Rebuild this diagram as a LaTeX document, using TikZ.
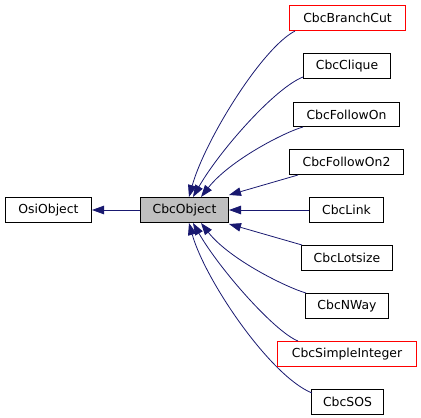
\documentclass[tikz,border=0pt]{standalone}
\usepackage{fontspec}
\setmainfont{DejaVu Sans}
\usetikzlibrary{arrows.meta,calc}
\definecolor{edgeblue}{RGB}{25,25,112}
\definecolor{boxgray}{RGB}{191,191,191}
\definecolor{boxred}{RGB}{255,0,0}
\tikzset{
  box/.style={draw=black, line width=1pt, fill=white, inner sep=0pt, minimum height=25pt, font=\fontsize{12.4}{14}\selectfont},
  redbox/.style={box, draw=boxred},
  edge/.style={draw=edgeblue, line width=0.8pt, -{Triangle[length=12pt,width=8.5pt]}}
}
\begin{document}
\begin{tikzpicture}[x=1pt,y=-1pt]
\useasboundingbox (0,0) rectangle (421,418);
\node[box, minimum width=86pt] (osi) at (48.5,210) {OsiObject};
\node[box, fill=boxgray, minimum width=88pt] (obj) at (184.5,210) {CbcObject};
\node[redbox, minimum width=116pt] (bc) at (347.5,18) {CbcBranchCut};
\node[box, minimum width=87pt] (cl) at (347,66) {CbcClique};
\node[box, minimum width=106pt, minimum height=24pt] (fo) at (346.5,114.5) {CbcFollowOn};
\node[box, minimum width=114pt] (fo2) at (346.5,162) {CbcFollowOn2};
\node[box, minimum width=74pt] (lk) at (346.5,210) {CbcLink};
\node[box, minimum width=91pt] (ls) at (347,258) {CbcLotsize};
\node[box, minimum width=83pt] (nw) at (347,306) {CbcNWay};
\node[redbox, minimum width=139pt] (si) at (347,354) {CbcSimpleInteger};
\node[box, minimum width=72pt] (sos) at (347.5,402) {CbcSOS};

\draw[edge] (obj.west) -- (osi.east);
\draw[edge] ($(bc.south west)+(6,0)$) .. controls (262,48) and (205,140) .. ($(obj.north)+(4.5,0)$);
\draw[edge] ($(cl.south west)+(0,-2)$) .. controls (275,88) and (220,150) .. ($(obj.north)+(8.5,0)$);
\draw[edge] ($(fo.south west)+(10,0)$) .. controls (285,132) and (230,160) .. ($(obj.north)+(16.5,0)$);
\draw[edge] ($(fo2.south west)+(9,0)$) -- ($(obj.north east)+(0,-2)$);
\draw[edge] (lk.west) -- (obj.east);
\draw[edge] ($(ls.north west)+(1,0)$) -- ($(obj.south east)+(0,1)$);
\draw[edge] ($(nw.north west)+(1,0)$) .. controls (288,288) and (230,260) .. ($(obj.south)+(16.5,0)$);
\draw[edge] ($(si.north west)+(21,0)$) .. controls (275,332) and (220,270) .. ($(obj.south)+(8.5,0)$);
\draw[edge] ($(sos.north west)+(1,4)$) .. controls (270,376) and (205,280) .. ($(obj.south)+(4.5,0)$);
\end{tikzpicture}
\end{document}
